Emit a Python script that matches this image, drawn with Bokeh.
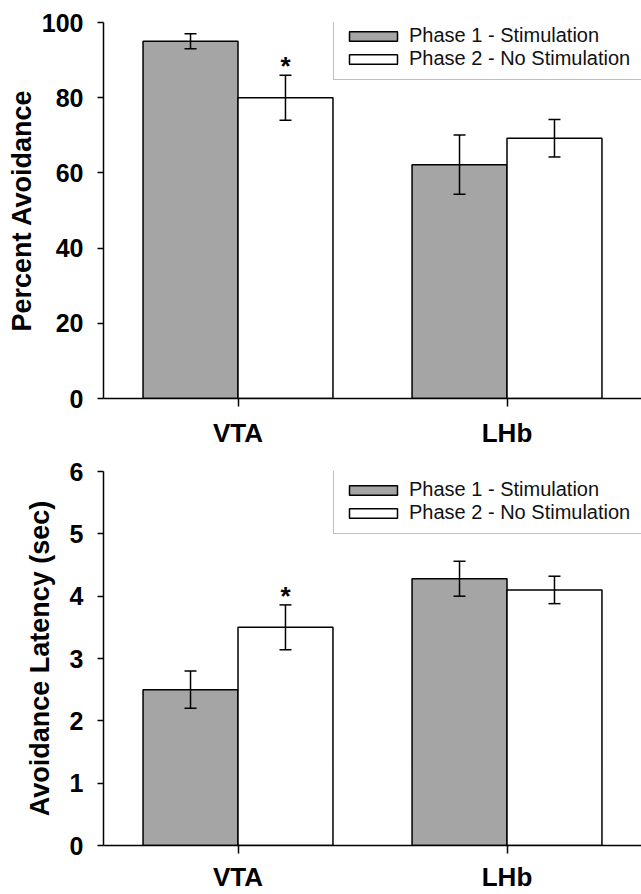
from bokeh.plotting import figure
from bokeh.models import (ColumnDataSource, FactorRange, Range1d, FixedTicker,
                          Whisker, TeeHead, Legend, LegendItem)
from bokeh.transform import dodge
from bokeh.layouts import column
from bokeh.embed import file_html
from bokeh.resources import INLINE
from bokeh.core.properties import value

# ---------------- data ----------------
groups = ["VTA", "LHb"]
phase_labels = ["Phase 1 - Stimulation", "Phase 2 - No Stimulation"]

avoid_p1 = [95.0, 62.2]
avoid_p1_err = [2.0, 7.9]
avoid_p2 = [80.0, 69.2]
avoid_p2_err = [6.0, 5.0]
avoid_sig = ["*", ""]
avoid_yticks = [0, 20, 40, 60, 80, 100]
avoid_ymax = 100

lat_p1 = [2.5, 4.28]
lat_p1_err = [0.30, 0.28]
lat_p2 = [3.5, 4.10]
lat_p2_err = [0.36, 0.22]
lat_sig = ["*", ""]
lat_yticks = [0, 1, 2, 3, 4, 5, 6]
lat_ymax = 6

FONT = "Liberation Sans"
GRAY = "#a5a5a5"
BAR_W = 0.353
OFF = BAR_W / 2


def make_panel(ylabel, p1, p1e, p2, p2e, sig, yticks, ymax, height,
               b_top, b_bottom, legend_loc, ylabel_standoff, xlabel_standoff):
    src = ColumnDataSource(dict(
        group=groups,
        p1=p1, p2=p2,
        p1_up=[m + e for m, e in zip(p1, p1e)],
        p1_lo=[m - e for m, e in zip(p1, p1e)],
        p2_up=[m + e for m, e in zip(p2, p2e)],
        p2_lo=[m - e for m, e in zip(p2, p2e)],
        sig=sig,
    ))
    p = figure(x_range=FactorRange(*groups), y_range=Range1d(0, ymax),
               width=641, height=height, output_backend="svg",
               toolbar_location=None, min_border_left=103, min_border_right=0,
               min_border_top=b_top, min_border_bottom=b_bottom)
    p.outline_line_color = None
    p.xgrid.visible = False
    p.ygrid.visible = False
    p.background_fill_color = "white"
    p.border_fill_color = "white"

    r1 = p.vbar(x=dodge("group", -OFF, range=p.x_range), top="p1", width=BAR_W,
                source=src, fill_color=GRAY, line_color="black", line_width=1.5)
    r2 = p.vbar(x=dodge("group", OFF, range=p.x_range), top="p2", width=BAR_W,
                source=src, fill_color="white", line_color="black", line_width=1.5)

    for col, off in (("p1", -OFF), ("p2", OFF)):
        w = Whisker(source=src, base=dodge("group", off, range=p.x_range),
                    upper=col + "_up", lower=col + "_lo",
                    line_color="black", line_width=1.5, level="annotation",
                    upper_head=TeeHead(size=12, line_width=1.5, line_color="black"),
                    lower_head=TeeHead(size=12, line_width=1.5, line_color="black"))
        p.add_layout(w)

    p.text(x=dodge("group", OFF, range=p.x_range), y="p2_up", text="sig", source=src,
           text_font=value(FONT), text_font_style="bold", text_font_size="26px",
           text_align="center", text_baseline="alphabetic", text_color="black",
           y_offset=-9)

    legend = Legend(items=[LegendItem(label=phase_labels[0], renderers=[r1]),
                           LegendItem(label=phase_labels[1], renderers=[r2])],
                    location=legend_loc, orientation="vertical",
                    glyph_width=60, glyph_height=12, label_standoff=6,
                    padding=9, spacing=-4, margin=0, label_width=235,
                    border_line_color="#808080", border_line_width=1,
                    background_fill_color="white", background_fill_alpha=1.0,
                    label_text_font=FONT, label_text_font_size="20px",
                    label_text_color="#111111")
    p.add_layout(legend)

    # axes
    p.yaxis.ticker = FixedTicker(ticks=yticks)
    p.yaxis.axis_label = ylabel
    p.yaxis.axis_label_text_font = FONT
    p.yaxis.axis_label_text_font_style = "bold"
    p.yaxis.axis_label_text_font_size = "27px"
    p.yaxis.axis_label_text_color = "black"
    p.yaxis.axis_label_standoff = ylabel_standoff
    p.yaxis.major_label_text_font = FONT
    p.yaxis.major_label_text_font_style = "bold"
    p.yaxis.major_label_text_font_size = "25px"
    p.yaxis.major_label_text_color = "black"
    p.yaxis.major_label_standoff = 14
    p.yaxis.major_tick_out = 6
    p.yaxis.major_tick_in = 0
    p.yaxis.minor_tick_out = 0
    p.yaxis.minor_tick_in = 0

    p.xaxis.major_label_text_font = FONT
    p.xaxis.major_label_text_font_style = "bold"
    p.xaxis.major_label_text_font_size = "26px"
    p.xaxis.major_label_text_color = "black"
    p.xaxis.major_label_standoff = xlabel_standoff
    p.xaxis.major_tick_out = 8
    p.xaxis.major_tick_in = 0

    for ax in (p.xaxis, p.yaxis):
        ax.axis_line_color = "black"
        ax.axis_line_width = 1.5
        ax.major_tick_line_color = "black"
        ax.major_tick_line_width = 1.5
    return p


top = make_panel("Percent Avoidance", avoid_p1, avoid_p1_err, avoid_p2, avoid_p2_err,
                 avoid_sig, avoid_yticks, avoid_ymax, 450, 22, 51, (230, 318), 2, 11)
bottom = make_panel("Avoidance Latency (sec)", lat_p1, lat_p1_err, lat_p2, lat_p2_err,
                    lat_sig, lat_yticks, lat_ymax, 444, 21, 46, (230, 311), 12, 8)

layout = column(top, bottom, spacing=0)

with open("out.html", "w") as f:
    f.write(file_html(layout, INLINE))
